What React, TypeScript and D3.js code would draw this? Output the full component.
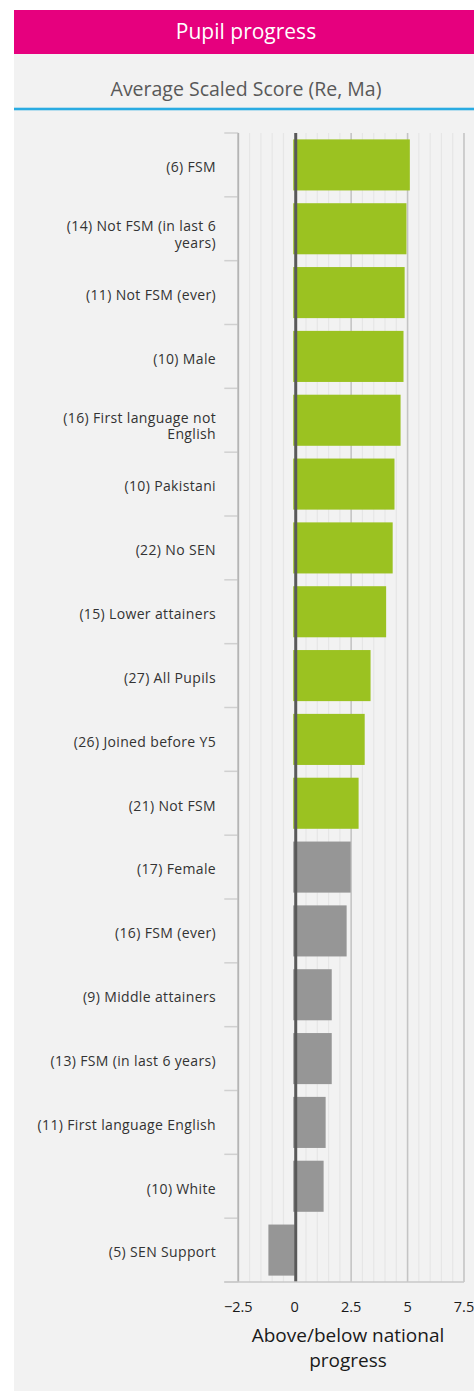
import React, { useEffect, useRef } from "react";
import * as d3 from "d3";

const categories: string[] = [
  "(6) FSM",
  "(14) Not FSM (in last 6 years)",
  "(11) Not FSM (ever)",
  "(10) Male",
  "(16) First language not English",
  "(10) Pakistani",
  "(22) No SEN",
  "(15) Lower attainers",
  "(27) All Pupils",
  "(26) Joined before Y5",
  "(21) Not FSM",
  "(17) Female",
  "(16) FSM (ever)",
  "(9) Middle attainers",
  "(13) FSM (in last 6 years)",
  "(11) First language English",
  "(10) White",
  "(5) SEN Support",
];

const values: number[] = [
  5.1, 4.95, 4.87, 4.82, 4.69, 4.42, 4.34, 4.05, 3.36, 3.1, 2.83, 2.48, 2.3,
  1.64, 1.64, 1.37, 1.28, -1.1,
];

const highlighted: boolean[] = [
  true, true, true, true, true, true, true, true, true, true, true,
  false, false, false, false, false, false, false,
];

const majorTicks: number[] = [-2.5, 0, 2.5, 5, 7.5];
const minorStep = 0.5;

const title = "Pupil progress";
const subtitle = "Average Scaled Score (Re, Ma)";
const axisTitle = ["Above/below national", "progress"];

const FONT = "'Open Sans', 'Noto Sans', sans-serif";

export default function App() {
  const ref = useRef<SVGSVGElement>(null);

  useEffect(() => {
    document.body.style.margin = "0";
    const svg = d3.select(ref.current!);
    svg.selectAll("*").remove();

    const W = 474;
    const H = 1391;
    const panelX = 14;

    // background panel
    svg.append("rect").attr("x", panelX).attr("y", 53).attr("width", W - panelX).attr("height", H - 53).attr("fill", "#f2f2f2");
    // header
    svg.append("rect").attr("x", panelX).attr("y", 10).attr("width", W - panelX).attr("height", 44).attr("fill", "#e6007e");
    svg.append("text").attr("x", (panelX + W) / 2 + 2).attr("y", 39).attr("text-anchor", "middle")
      .attr("fill", "#ffffff").attr("font-family", FONT).attr("font-size", 21).text(title);
    svg.append("text").attr("x", 246).attr("y", 96).attr("text-anchor", "middle")
      .attr("fill", "#595959").attr("font-family", FONT).attr("font-size", 19.5).text(subtitle);
    svg.append("rect").attr("x", panelX).attr("y", 107.7).attr("width", W - panelX).attr("height", 2.6).attr("fill", "#29abe2");

    const x = d3.scaleLinear().domain([-2.5, 7.5]).range([238.3, 464]);
    const y = d3.scaleBand<string>().domain(categories).range([133, 1282]).paddingInner(0.2).paddingOuter(0.1);
    const yTicks = d3.scaleBand<string>().domain(categories).range([133, 1282]);

    // minor grid
    const minor = d3.range(-2.5, 7.5 + 1e-9, minorStep).filter((v) => !majorTicks.some((m) => Math.abs(m - v) < 1e-6));
    svg.append("g").selectAll("line").data(minor).join("line")
      .attr("x1", (d) => x(d)).attr("x2", (d) => x(d)).attr("y1", 133).attr("y2", 1282)
      .attr("stroke", "#e6e6e6").attr("stroke-width", 1.2);
    // major grid
    svg.append("g").selectAll("line").data(majorTicks.filter((d) => d !== 0)).join("line")
      .attr("x1", (d) => x(d)).attr("x2", (d) => x(d)).attr("y1", 133).attr("y2", 1282)
      .attr("stroke", "#c4c4c4").attr("stroke-width", 1.6);

    // category tick marks
    const tickYs = categories.map((c) => yTicks(c)!).concat([1282]);
    svg.append("g").selectAll("line").data(tickYs).join("line")
      .attr("x1", x(-2.5) - 14).attr("x2", x(-2.5)).attr("y1", (d) => d).attr("y2", (d) => d)
      .attr("stroke", "#d0d0d0").attr("stroke-width", 1.5);
    // left axis line
    svg.append("line").attr("x1", x(-2.5)).attr("x2", x(-2.5)).attr("y1", 133).attr("y2", 1282)
      .attr("stroke", "#b4b4b4").attr("stroke-width", 1.6);

    // bars
    svg.append("g").selectAll("rect").data(categories).join("rect")
      .attr("x", (_, i) => Math.min(x(0), x(values[i])) - 1.5)
      .attr("width", (_, i) => Math.abs(x(values[i]) - x(0)) + 1.5)
      .attr("y", (d) => y(d)!)
      .attr("height", y.bandwidth())
      .attr("fill", (_, i) => (highlighted[i] ? "#9bc221" : "#969696"));

    // zero line
    svg.append("line").attr("x1", x(0) + 1).attr("x2", x(0) + 1).attr("y1", 133).attr("y2", 1282)
      .attr("stroke", "#595959").attr("stroke-width", 3);

    // category labels with wrapping
    const labelG = svg.append("g").attr("font-family", FONT).attr("font-size", 14)
      .attr("letter-spacing", 0.35).attr("fill", "#333333").attr("text-anchor", "end");
    const maxW = 190;
    categories.forEach((c) => {
      const cy = yTicks(c)! + yTicks.bandwidth() / 2;
      const t = labelG.append("text").attr("x", 216);
      const words = c.split(" ");
      const lines: string[] = [];
      let cur = "";
      const probe = labelG.append("text").attr("visibility", "hidden");
      words.forEach((w) => {
        const test = cur ? cur + " " + w : w;
        probe.text(test);
        if ((probe.node() as SVGTextElement).getComputedTextLength() > maxW && cur) {
          lines.push(cur);
          cur = w;
        } else cur = test;
      });
      lines.push(cur);
      probe.remove();
      const lh = 16.5;
      const off = lines.length > 1 ? 6 : 2.5;
      lines.forEach((ln, i) => {
        t.append("tspan").attr("x", 216)
          .attr("y", cy + off + (i - (lines.length - 1) / 2) * lh)
          .attr("dy", "0.35em").text(ln);
      });
    });

    // bottom axis line
    svg.append("line").attr("x1", x(-2.5) - 14).attr("x2", x(7.5)).attr("y1", 1282).attr("y2", 1282)
      .attr("stroke", "#c8c8c8").attr("stroke-width", 1.6);

    // x tick labels
    svg.append("g").selectAll("text").data(majorTicks).join("text")
      .attr("x", (d) => x(d)).attr("y", 1306.5).attr("dy", "0.35em").attr("text-anchor", "middle")
      .attr("font-family", FONT).attr("font-size", 14.5).attr("fill", "#1a1a1a")
      .text((d) => d3.format("")(d));

    // axis title
    axisTitle.forEach((ln, i) => {
      svg.append("text").attr("x", 348).attr("y", 1335 + i * 25.5).attr("dy", "0.35em").attr("text-anchor", "middle")
        .attr("font-family", FONT).attr("font-size", 19).attr("fill", "#1a1a1a").text(ln);
    });
  }, []);

  return (
    <svg ref={ref} width={474} height={1391} style={{ position: "absolute", left: 0, top: 0, display: "block" }} />
  );
}
